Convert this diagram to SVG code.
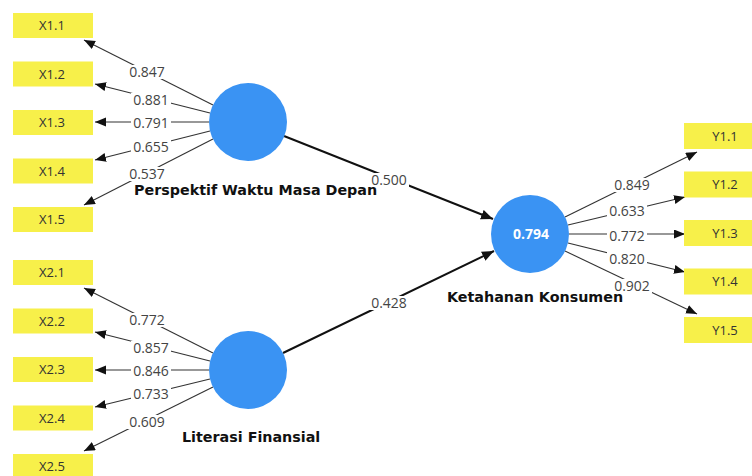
<svg xmlns="http://www.w3.org/2000/svg" width="752" height="476" viewBox="0 0 752 476">
<style>
.box{fill:#F7F04A}
.bt{font-family:"Open Sans","Liberation Sans",sans-serif;font-size:13px;fill:#333;text-anchor:middle}
.lv{fill:#3A93F3}
.ln{font-family:"DejaVu Sans","Liberation Sans",sans-serif;font-size:14.3px;font-weight:bold;fill:#111}
.ld{stroke:#333;stroke-width:1.1;fill:none;marker-end:url(#ah)}
.pa{stroke:#111;stroke-width:2;fill:none;marker-end:url(#ah2)}
.lb{fill:#fff}
.lt{font-family:"Open Sans","Liberation Sans",sans-serif;font-size:14px;fill:#444;text-anchor:middle}
.r2{font-family:"Open Sans","Liberation Sans",sans-serif;font-size:14px;font-weight:bold;fill:#fff;text-anchor:middle}
</style>
<defs>
<marker id="ah" markerUnits="userSpaceOnUse" markerWidth="12" markerHeight="10" refX="11" refY="4.5" orient="auto"><path d="M0,0 L11,4.5 L0,9 z" fill="#111"/></marker>
<marker id="ah2" markerUnits="userSpaceOnUse" markerWidth="13" markerHeight="11" refX="12" refY="5" orient="auto"><path d="M0,0 L12,5 L0,10 z" fill="#111"/></marker>
</defs>
<rect width="752" height="476" fill="#fff"/>
<g id="connectors">
<line class="ld" x1="213" y1="105" x2="84" y2="40"/>
<line class="ld" x1="210" y1="113" x2="95" y2="84"/>
<line class="ld" x1="209" y1="122" x2="95" y2="122"/>
<line class="ld" x1="210" y1="131" x2="95" y2="160"/>
<line class="ld" x1="213" y1="139" x2="84" y2="205"/>
<line class="ld" x1="213" y1="353" x2="84" y2="288"/>
<line class="ld" x1="210" y1="361" x2="95" y2="332"/>
<line class="ld" x1="209" y1="370" x2="95" y2="370"/>
<line class="ld" x1="210" y1="379" x2="95" y2="407"/>
<line class="ld" x1="213" y1="387" x2="84" y2="451"/>
<line class="ld" x1="565" y1="217" x2="697" y2="152"/>
<line class="ld" x1="568" y1="225" x2="685" y2="197"/>
<line class="ld" x1="569" y1="234" x2="685" y2="234"/>
<line class="ld" x1="568" y1="243" x2="685" y2="272"/>
<line class="ld" x1="565" y1="251" x2="697" y2="314"/>
<line class="pa" x1="284" y1="136" x2="493" y2="219"/>
<line class="pa" x1="283" y1="353" x2="494" y2="251"/>
</g>
<g id="names">
<text class="ln" x="134" y="195" font-size="14.5">Perspektif Waktu Masa Depan</text>
<text class="ln" x="182" y="442" font-size="14">Literasi Finansial</text>
<text class="ln" x="447" y="302">Ketahanan Konsumen</text>
</g>
<g id="labels">
<rect class="lb" x="127" y="65" width="40" height="14"/><text class="lt" x="147" y="77">0.847</text>
<rect class="lb" x="131" y="93" width="40" height="14"/><text class="lt" x="151" y="105">0.881</text>
<rect class="lb" x="131" y="116" width="40" height="14"/><text class="lt" x="151" y="128">0.791</text>
<rect class="lb" x="131" y="140" width="40" height="14"/><text class="lt" x="151" y="152">0.655</text>
<rect class="lb" x="127" y="167" width="40" height="14"/><text class="lt" x="147" y="179">0.537</text>
<rect class="lb" x="127" y="313" width="40" height="14"/><text class="lt" x="147" y="325">0.772</text>
<rect class="lb" x="131" y="341" width="40" height="14"/><text class="lt" x="151" y="353">0.857</text>
<rect class="lb" x="131" y="364" width="40" height="14"/><text class="lt" x="151" y="376">0.846</text>
<rect class="lb" x="131" y="387" width="40" height="14"/><text class="lt" x="151" y="399">0.733</text>
<rect class="lb" x="127" y="415" width="40" height="14"/><text class="lt" x="147" y="427">0.609</text>
<rect class="lb" x="612" y="178" width="40" height="14"/><text class="lt" x="632" y="190">0.849</text>
<rect class="lb" x="607" y="204" width="40" height="14"/><text class="lt" x="627" y="216">0.633</text>
<rect class="lb" x="607" y="229" width="40" height="14"/><text class="lt" x="627" y="241">0.772</text>
<rect class="lb" x="607" y="252" width="40" height="14"/><text class="lt" x="627" y="264">0.820</text>
<rect class="lb" x="612" y="279" width="40" height="14"/><text class="lt" x="632" y="291">0.902</text>
<rect class="lb" x="369" y="173" width="40" height="14"/><text class="lt" x="389" y="185">0.500</text>
<rect class="lb" x="369" y="296" width="40" height="14"/><text class="lt" x="389" y="308">0.428</text>
</g>
<g id="lv1"><circle class="lv" cx="248" cy="122" r="39"/></g>
<g id="lv2"><circle class="lv" cx="248" cy="370" r="39"/></g>
<g id="lv3"><circle class="lv" cx="530" cy="234" r="39"/><text class="r2" x="531" y="239">0.794</text></g>
<g id="X1.1"><rect class="box" x="13" y="13" width="80" height="25"/><text class="bt" x="52" y="30">X1.1</text></g>
<g id="X1.2"><rect class="box" x="13" y="61.5" width="80" height="25"/><text class="bt" x="52" y="78.5">X1.2</text></g>
<g id="X1.3"><rect class="box" x="13" y="110" width="80" height="25"/><text class="bt" x="52" y="127">X1.3</text></g>
<g id="X1.4"><rect class="box" x="13" y="158.5" width="80" height="25"/><text class="bt" x="52" y="175.5">X1.4</text></g>
<g id="X1.5"><rect class="box" x="13" y="207" width="80" height="25"/><text class="bt" x="52" y="224">X1.5</text></g>
<g id="X2.1"><rect class="box" x="13" y="260" width="80" height="25"/><text class="bt" x="52" y="277">X2.1</text></g>
<g id="X2.2"><rect class="box" x="13" y="308.5" width="80" height="25"/><text class="bt" x="52" y="325.5">X2.2</text></g>
<g id="X2.3"><rect class="box" x="13" y="357" width="80" height="25"/><text class="bt" x="52" y="374">X2.3</text></g>
<g id="X2.4"><rect class="box" x="13" y="405.5" width="80" height="25"/><text class="bt" x="52" y="422.5">X2.4</text></g>
<g id="X2.5"><rect class="box" x="13" y="454" width="80" height="25"/><text class="bt" x="52" y="471">X2.5</text></g>
<g id="Y1.1"><rect class="box" x="684" y="123" width="82" height="26"/><text class="bt" x="725" y="140.5">Y1.1</text></g>
<g id="Y1.2"><rect class="box" x="684" y="171.5" width="82" height="26"/><text class="bt" x="725" y="189">Y1.2</text></g>
<g id="Y1.3"><rect class="box" x="684" y="220" width="82" height="26"/><text class="bt" x="725" y="237.5">Y1.3</text></g>
<g id="Y1.4"><rect class="box" x="684" y="268.5" width="82" height="26"/><text class="bt" x="725" y="286">Y1.4</text></g>
<g id="Y1.5"><rect class="box" x="684" y="317" width="82" height="26"/><text class="bt" x="725" y="334.5">Y1.5</text></g>
</svg>
